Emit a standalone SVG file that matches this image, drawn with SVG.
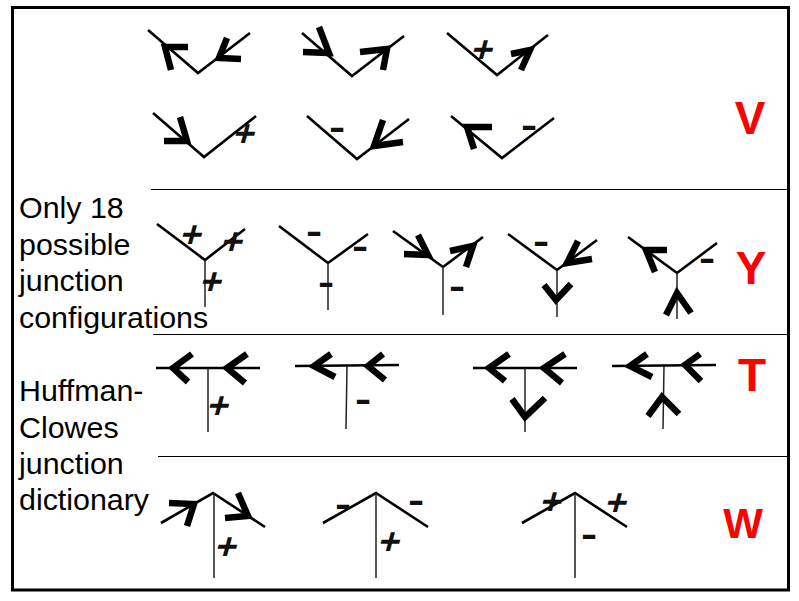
<svg xmlns="http://www.w3.org/2000/svg" width="799" height="601" viewBox="0 0 799 601">
<style>
.e{fill:none;stroke:#000;stroke-width:2.6;stroke-linejoin:miter}
.s{fill:none;stroke:#222;stroke-width:1.5}
.h{fill:none;stroke:#000;stroke-width:6.5;stroke-linejoin:miter}
.rule{stroke:#000;stroke-width:1}
.t{font-family:"Liberation Sans",Arial,sans-serif;font-size:30.4px;fill:#000}
.k{font-family:"Liberation Sans",Arial,sans-serif;font-weight:bold;font-size:46px;fill:#f00;text-anchor:middle}
.p{font-family:"Liberation Sans",Arial,sans-serif;font-weight:bold;font-size:37px;fill:#111;text-anchor:middle}
.m{font-family:"Liberation Sans",Arial,sans-serif;font-weight:bold;font-size:36px;fill:#111;text-anchor:middle}
</style>
<rect width="799" height="601" fill="#fff"/>
<rect x="12.5" y="7.5" width="776" height="582.5" fill="none" stroke="#000" stroke-width="3"/>
<g id="rules">
<line class="rule" x1="151" y1="189.5" x2="788" y2="189.5"/>
<line class="rule" x1="153" y1="334.5" x2="788" y2="334.5"/>
<line class="rule" x1="158" y1="456.5" x2="788" y2="456.5"/>
</g>
<g id="caption">
<text class="t" x="19" y="218">Only 18</text>
<text class="t" x="19" y="255">possible</text>
<text class="t" x="19" y="291">junction</text>
<text class="t" x="19" y="328">configurations</text>
<text class="t" x="19" y="401">Huffman-</text>
<text class="t" x="19" y="438">Clowes</text>
<text class="t" x="19" y="474">junction</text>
<text class="t" x="19" y="510">dictionary</text>
</g>
<g id="labels">
<text class="k" x="750" y="134">V</text>
<text class="k" x="751" y="284">Y</text>
<text class="k" x="752" y="391">T</text>
<text class="k" x="743" y="538" style="font-size:42px">W</text>
</g>
<g id="v1"><polyline class="e" points="148,30 198,73 250,33"/>
<polyline class="h" points="188,47 165,47 171,70"/><polyline class="h" points="227,38 219,58 241,59"/></g>
<g id="v2"><polyline class="e" points="302,33 352,76 404,36"/>
<polyline class="h" points="319,27 329,53 303,52"/><polyline class="h" points="360,52 387,49 383,70"/></g>
<g id="v3"><polyline class="e" points="447,33 497,75 548,35"/>
<text class="p" transform="translate(480 62) skewX(-15)">+</text>
<polyline class="h" points="511,54 530,50 521,70"/></g>
<g id="v4"><polyline class="e" points="153,113 204,157 256,116"/>
<polyline class="h" points="180,117 187,141 164,141"/>
<text class="p" transform="translate(242 146) skewX(-15)">+</text></g>
<g id="v5"><polyline class="e" points="307,116 357,159 409,119"/>
<text class="m" transform="translate(337 139) scale(1.35 1)">-</text>
<polyline class="h" points="383,120 374,146 403,142"/></g>
<g id="v6"><polyline class="e" points="451,116 502,158 554,118"/>
<polyline class="h" points="492,127 467,127 474,149"/>
<text class="m" transform="translate(529 137) scale(1.35 1)">-</text></g>
<g id="y1"><polyline class="e" points="157,224 205,260 245,229"/><line class="s" x1="205" y1="260" x2="205" y2="307"/>
<text class="p" transform="translate(189 247) skewX(-15)">+</text>
<text class="p" transform="translate(230 254) skewX(-15)">+</text>
<text class="p" transform="translate(209 294) skewX(-15)">+</text></g>
<g id="y2"><polyline class="e" points="279,226 328,263 368,234"/><line class="s" x1="328" y1="263" x2="328" y2="310"/>
<text class="m" transform="translate(314 243) scale(1.35 1)">-</text>
<text class="m" transform="translate(360 258) scale(1.35 1)">-</text>
<text class="m" transform="translate(326 294) scale(1.35 1)">-</text></g>
<g id="y3"><polyline class="e" points="393,231 443,267 483,237"/><line class="s" x1="443" y1="267" x2="443" y2="315"/>
<polyline class="h" points="418,235 428,255 404,254"/><polyline class="h" points="450,251 473,246 466,267"/>
<text class="m" transform="translate(457 298) scale(1.35 1)">-</text></g>
<g id="y4"><polyline class="e" points="508,234 557,270 597,240"/><line class="s" x1="557" y1="270" x2="557" y2="317"/>
<text class="m" transform="translate(541 253) scale(1.35 1)">-</text>
<polyline class="h" points="578,241 567,263 592,259"/><polyline class="h" points="544,285 556,300 571,284"/></g>
<g id="y5"><polyline class="e" points="628,237 677,273 717,243"/><line class="s" x1="677" y1="273" x2="677" y2="319"/>
<polyline class="h" points="667,250 646,250 655,272"/>
<text class="m" transform="translate(707 270) scale(1.35 1)">-</text>
<polyline class="h" points="666,315 677,293 691,313"/></g>
<g id="t1"><line class="e" x1="156" y1="368" x2="260" y2="368"/><line class="s" x1="208" y1="368" x2="208" y2="432"/>
<polyline class="h" points="192,354 173,368 188,382"/><polyline class="h" points="247,354 227,368 245,383"/>
<text class="p" transform="translate(216 418) skewX(-15)">+</text></g>
<g id="t2"><line class="e" x1="295" y1="366" x2="399" y2="365"/><line class="s" x1="347" y1="366" x2="346" y2="429"/>
<polyline class="h" points="331,354 314,366 335,377"/><polyline class="h" points="383,354 368,366 385,380"/>
<text class="m" transform="translate(363 411) scale(1.35 1)">-</text></g>
<g id="t3"><line class="e" x1="473" y1="368" x2="577" y2="368"/><line class="s" x1="525" y1="368" x2="525" y2="432"/>
<polyline class="h" points="509,354 489,368 505,381"/><polyline class="h" points="565,354 544,368 562,383"/>
<polyline class="h" points="512,399 525,417 545,398"/></g>
<g id="t4"><line class="e" x1="612" y1="366" x2="716" y2="365"/><line class="s" x1="664" y1="366" x2="663" y2="429"/>
<polyline class="h" points="647,354 630,366 652,377"/><polyline class="h" points="700,354 685,365 701,381"/>
<polyline class="h" points="648,416 662,397 679,414"/></g>
<g id="w1"><polyline class="e" points="161,523 213,493 265,527"/><line class="s" x1="214" y1="493" x2="214" y2="578"/>
<polyline class="h" points="169,503 194,504 187,526"/><polyline class="h" points="238,493 248,516 225,518"/>
<text class="p" transform="translate(224 559) skewX(-15)">+</text></g>
<g id="w2"><polyline class="e" points="323,523 376,493 428,527"/><line class="s" x1="376" y1="493" x2="376" y2="578"/>
<text class="m" transform="translate(343 516) scale(1.35 1)">-</text>
<text class="m" transform="translate(416 512) scale(1.35 1)">-</text>
<text class="p" transform="translate(387 554) skewX(-15)">+</text></g>
<g id="w3"><polyline class="e" points="522,523 575,493 627,527"/><line class="s" x1="575" y1="493" x2="575" y2="578"/>
<text class="p" transform="translate(549 514) skewX(-15)">+</text>
<text class="p" transform="translate(614 515) skewX(-15)">+</text>
<text class="m" transform="translate(589 546) scale(1.35 1)">-</text></g>
</svg>
